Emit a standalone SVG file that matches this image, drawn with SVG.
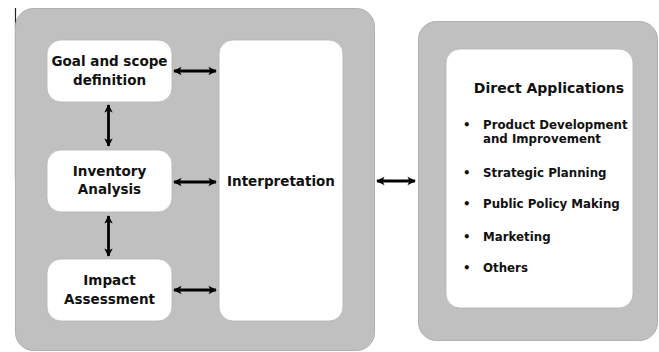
<svg xmlns="http://www.w3.org/2000/svg" width="659" height="352" viewBox="0 0 659 352">
<defs>
<style>
.panel{fill:#c0c0c0;stroke:#b0b0b0;stroke-width:1}
.node{fill:#ffffff;stroke:#b4b4b4;stroke-width:0.8}
.t{font-family:"DejaVu Sans",Verdana,sans-serif;font-weight:bold;fill:#111111}
.lbl{font-size:13.5px;text-anchor:middle}
.item{font-size:11.8px}
.conn{stroke:#000;stroke-width:2.8;fill:none;marker-start:url(#ah);marker-end:url(#ah)}
</style>
<marker id="ah" viewBox="0 0 10 10" refX="9" refY="5" markerWidth="3" markerHeight="3.8" orient="auto-start-reverse" markerUnits="strokeWidth">
<path d="M0,0 L10,5 L0,10 L2.5,5 Z" fill="#000"/>
</marker>
</defs>
<rect x="0" y="0" width="659" height="352" fill="#ffffff"/>
<line x1="15.5" y1="8" x2="15.5" y2="179" stroke="#222" stroke-width="1.2"/>
<g id="lca-framework">
<rect class="panel" x="15.5" y="8.5" width="359" height="342" rx="18"/>
</g>
<g id="goal">
<rect class="node" x="47" y="40" width="125" height="62" rx="14"/>
<text class="t lbl" x="109.5" y="66">Goal and scope</text>
<text class="t lbl" x="109.5" y="85">definition</text>
</g>
<g id="inventory">
<rect class="node" x="47" y="150" width="125" height="62" rx="14"/>
<text class="t lbl" x="109.5" y="176">Inventory</text>
<text class="t lbl" x="109.5" y="194">Analysis</text>
</g>
<g id="impact">
<rect class="node" x="47" y="259" width="125" height="62" rx="14"/>
<text class="t lbl" x="109.5" y="285">Impact</text>
<text class="t lbl" x="109.5" y="304">Assessment</text>
</g>
<g id="interpretation">
<rect class="node" x="219" y="40" width="124" height="281" rx="14"/>
<text class="t lbl" x="281" y="186">Interpretation</text>
</g>
<g id="applications-panel">
<rect class="panel" x="418.5" y="21.5" width="239" height="319" rx="18"/>
</g>
<g id="direct-applications">
<rect class="node" x="446" y="49" width="187" height="259" rx="14"/>
<text class="t" x="549" y="93" font-size="14" text-anchor="middle">Direct Applications</text>
<g class="t item">
<text x="463" y="129">•</text><text x="483" y="129">Product Development</text>
<text x="483" y="143">and Improvement</text>
<text x="463" y="177">•</text><text x="483" y="177">Strategic Planning</text>
<text x="463" y="208">•</text><text x="483" y="208">Public Policy Making</text>
<text x="463" y="241">•</text><text x="483" y="241">Marketing</text>
<text x="463" y="272">•</text><text x="483" y="272">Others</text>
</g>
</g>
<g id="connectors">
<line class="conn" x1="174" y1="71" x2="216" y2="71"/>
<line class="conn" x1="174" y1="182" x2="216" y2="182"/>
<line class="conn" x1="174" y1="290" x2="216" y2="290"/>
<line class="conn" x1="108.5" y1="105" x2="108.5" y2="146"/>
<line class="conn" x1="108.5" y1="216" x2="108.5" y2="256"/>
<line class="conn" x1="377" y1="181" x2="415" y2="181"/>
</g>
</svg>
